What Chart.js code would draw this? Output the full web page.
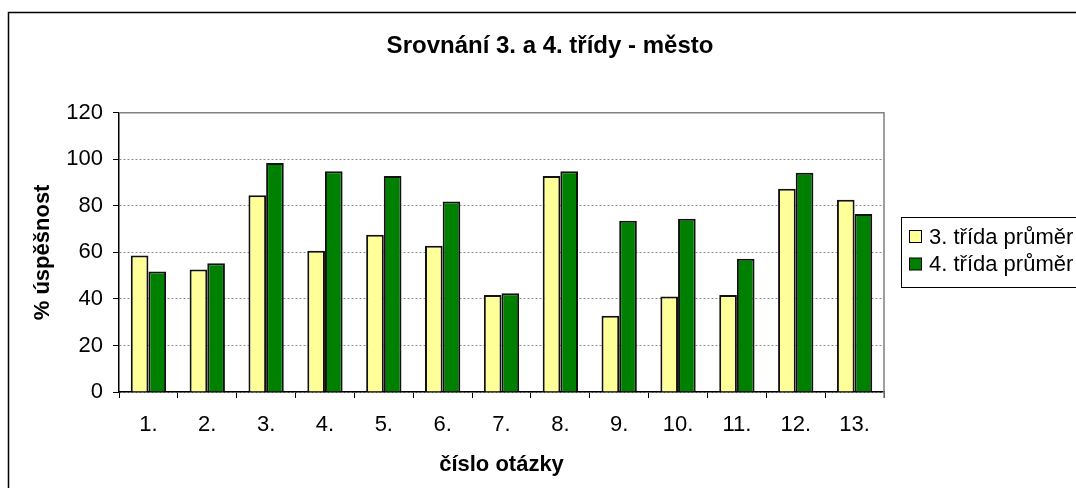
<!DOCTYPE html>
<html>
<head>
<meta charset="utf-8">
<script src="https://cdn.jsdelivr.net/npm/chart.js@4.4.1/dist/chart.umd.min.js"></script>
<style>
html,body{margin:0;padding:0;background:#fff;overflow:hidden;}
#wrap{position:absolute;left:0;top:0;width:1100px;height:488px;}
</style>
</head>
<body>
<div id="wrap"><canvas id="c" width="1100" height="488"></canvas></div>
<script>
const categories = ["1.","2.","3.","4.","5.","6.","7.","8.","9.","10.","11.","12.","13."];
const trida3 = [58.7, 52.6, 84.6, 60.7, 67.6, 62.9, 41.7, 92.8, 32.8, 41.0, 41.7, 87.4, 82.6];
const trida4 = [51.8, 55.3, 98.4, 94.9, 92.8, 81.9, 42.4, 94.9, 73.6, 74.5, 57.3, 94.2, 76.5];
const seriesNames = ["3. třída průměr", "4. třída průměr"];
const yTicks = [0, 20, 40, 60, 80, 100, 120];
const chartTitle = "Srovnání 3. a 4. třídy - město";
const xTitle = "číslo otázky";
const yTitle = "% úspěšnost";

const FONT = "'Liberation Sans', Arial, sans-serif";
const LABEL_SIZE = 22;

const framePlugin = {
  id: 'frame',
  beforeDraw(chart) {
    const ctx = chart.ctx;
    ctx.save();
    ctx.fillStyle = '#fff';
    ctx.fillRect(0, 0, chart.width, chart.height);
    ctx.strokeStyle = '#000';
    ctx.lineWidth = 1.5;
    ctx.strokeRect(8.5, 12.5, 2000, 1000);
    ctx.restore();
  },
  beforeDatasetsDraw(chart) {
    const a = chart.chartArea, ctx = chart.ctx;
    ctx.save();
    ctx.strokeStyle = '#808080';
    ctx.lineWidth = 1.5;
    ctx.beginPath();
    ctx.moveTo(a.left, a.top);
    ctx.lineTo(a.right, a.top);
    ctx.lineTo(a.right, a.bottom + 6);
    ctx.stroke();
    ctx.restore();
  },
  afterDraw(chart) {
    const ctx = chart.ctx;
    ctx.save();
    const x = 901.5, y = 217.5, w = 300, h = 70;
    ctx.strokeStyle = '#000';
    ctx.lineWidth = 1;
    ctx.fillStyle = '#fff';
    ctx.fillRect(x, y, w, h);
    ctx.strokeRect(x, y, w, h);
    ctx.font = LABEL_SIZE + "px " + FONT;
    ctx.textBaseline = 'middle';
    chart.data.datasets.forEach((ds, i) => {
      const cy = 236.5 + i * 27.5;
      ctx.fillStyle = ds.backgroundColor;
      ctx.fillRect(909.5, cy - 6, 12, 12);
      ctx.strokeStyle = '#000';
      ctx.strokeRect(909.5, cy - 6, 12, 12);
      ctx.fillStyle = '#000';
      ctx.fillText(ds.label, 929, cy + 1);
    });
    ctx.restore();
  }
};

new Chart(document.getElementById('c'), {
  type: 'bar',
  data: {
    labels: categories,
    datasets: [
      { label: seriesNames[0], data: trida3, backgroundColor: '#FFFF99', borderColor: '#111', borderWidth: 2 },
      { label: seriesNames[1], data: trida4, backgroundColor: '#008000', borderColor: '#111', borderWidth: 2 }
    ]
  },
  options: {
    responsive: false,
    animation: false,
    devicePixelRatio: 1,
    layout: { padding: 0 },
    datasets: { bar: { categoryPercentage: 0.6, barPercentage: 1.0 } },
    plugins: {
      legend: { display: false },
      tooltip: { enabled: false },
      title: {
        display: true,
        text: chartTitle,
        color: '#000',
        font: { family: FONT, size: 24, weight: 'bold' },
        padding: { top: 32, bottom: 52 }
      }
    },
    scales: {
      x: {
        grid: { drawOnChartArea: false, drawTicks: true, tickLength: 6, color: '#000', offset: true },
        border: { display: true, color: '#000', width: 1.5 },
        ticks: { color: '#000', font: { family: FONT, size: LABEL_SIZE }, padding: 14, maxRotation: 0 },
        title: { display: true, text: xTitle, color: '#000', font: { family: FONT, size: LABEL_SIZE, weight: 'bold' }, padding: { top: 4, bottom: 10 } },
        afterFit(scale) { scale.height = 96; }
      },
      y: {
        min: 0, max: 120,
        afterBuildTicks(scale) { scale.ticks = yTicks.map(v => ({ value: v })); },
        grid: {
          color: (ctx) => ctx.tick && ctx.tick.value === 120 ? 'rgba(0,0,0,0)' : '#8c8c8c',
          tickColor: '#000',
          tickLength: 6,
          lineWidth: 1
        },
        border: { display: true, color: '#000', width: 1.5, dash: [2, 2] },
        ticks: { color: '#000', font: { family: FONT, size: LABEL_SIZE }, padding: 10 },
        title: { display: true, text: yTitle, color: '#000', font: { family: FONT, size: LABEL_SIZE, weight: 'bold' }, padding: { top: 30, bottom: 0 } },
        afterFit(scale) { scale.width = 119; }
      },
      spacer: {
        position: 'right',
        display: true,
        grid: { display: false, drawTicks: false },
        border: { display: false },
        ticks: { display: false },
        afterFit(scale) { scale.width = 216; }
      }
    }
  },
  plugins: [framePlugin]
});
</script>
</body>
</html>
